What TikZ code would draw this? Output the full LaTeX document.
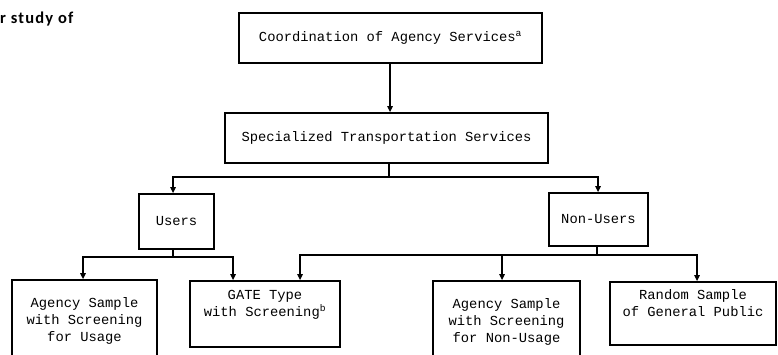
\documentclass[tikz,border=0pt]{standalone}
\usepackage{fontspec}
\setmonofont{Liberation Mono}
\newfontfamily\capfont[LetterSpace=7]{Carlito}
\usetikzlibrary{arrows.meta,calc}
\begin{document}
\begin{tikzpicture}[x=1pt,y=-1pt,
  box/.style={draw, line width=1.8pt, font=\ttfamily\fontsize{13.8}{17}\selectfont,
    align=center, inner sep=0pt, anchor=center},
  conn/.style={line width=1.3pt},
  arr/.style={conn, -{Triangle[length=6pt,width=5.5pt]}}]
\useasboundingbox (0,0) rectangle (778,354);
\clip (0,0) rectangle (778,354);
\node[anchor=base west, inner sep=0pt, font=\capfont\bfseries\fontsize{16.5}{18}\selectfont] (cap) at (0,23) {r study of};
\node[box, minimum width=303pt, minimum height=50pt] (coord) at (390.5,38)
  {Coordination of Agency Services\textsuperscript{a}};
\node[box, minimum width=323pt, minimum height=50pt] (spec) at (386.5,138)
  {Specialized Transportation Services};
\node[box, minimum width=75pt, minimum height=55pt] (users) at (176.5,221.5) {Users};
\node[box, minimum width=99pt, minimum height=53pt] (nonusers) at (598.5,219.5) {Non-Users};
\node[box, minimum width=145pt, minimum height=82pt] (agu) at (84.5,321)
  {Agency Sample\\with Screening\\for Usage};
\node[box, minimum width=150pt, minimum height=66pt] (gate) at (265,314)
  {GATE Type\\with Screening\textsuperscript{b}\\[4pt]};
\node[box, minimum width=147pt, minimum height=82pt] (agn) at (506.5,322)
  {Agency Sample\\with Screening\\for Non-Usage};
\node[box, minimum width=166pt, minimum height=63pt] (rand) at (693,313.5)
  {Random Sample\\of General Public\\[4pt]};
% level 1
\coordinate (c0) at (390,0);
\draw[arr] (coord.south -| c0) -- (spec.north -| c0);
% level 2
\coordinate (j1) at (389,177);
\draw[conn] (spec.south -| j1) -- (j1);
\draw[arr] (j1) -| (users.north -| 173,0);
\draw[arr] (j1) -| (nonusers.north -| 598,0);
% users branch
\coordinate (j2) at (173,257);
\draw[conn] (users.south -| j2) -- (j2);
\draw[arr] (j2) -| (agu.north -| 83,0);
\draw[arr] (j2) -| (gate.north -| 233,0);
% non-users branch
\coordinate (j3) at (597,255);
\draw[conn] (nonusers.south -| j3) -- (j3);
\draw[arr] (j3) -| (gate.north -| 300,0);
\draw[arr] (j3) -| (agn.north -| 502,0);
\draw[arr] (j3) -| (rand.north -| 697,0);
\end{tikzpicture}
\end{document}
